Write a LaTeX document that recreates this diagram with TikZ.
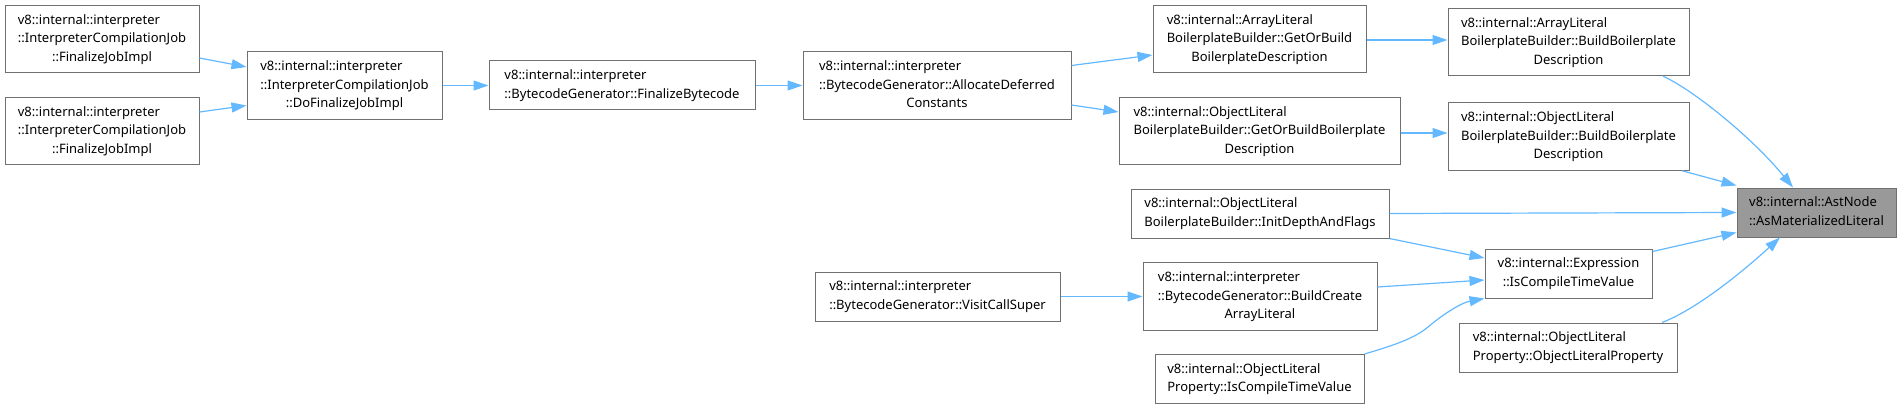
\documentclass[tikz,border=0pt]{standalone}
\usepackage{fontspec}
\setmainfont{Noto Sans}
\usepackage{tikz}
\usetikzlibrary{arrows.meta,calc}

\definecolor{edgeblue}{HTML}{63B8FF}
\definecolor{boxgray}{HTML}{707070}
\definecolor{mainfill}{HTML}{999999}

\newcommand{\twolines}[2]{\begin{tabular}{@{}l@{}}#1\\\multicolumn{1}{@{}c@{}}{#2}\end{tabular}}
\newcommand{\threelines}[3]{\begin{tabular}{@{}l@{}}#1\\#2\\\multicolumn{1}{@{}c@{}}{#3}\end{tabular}}

\tikzset{
  fn/.style={draw=boxgray, fill=white, line width=1pt, inner xsep=4pt, inner ysep=6pt,
    font=\fontsize{13}{18.5}\selectfont},
  fnmain/.style={fn, fill=mainfill},
  call/.style={draw=edgeblue, line width=1.2pt, -{Triangle[length=15pt,width=10pt]}},
}

\begin{document}
\begin{tikzpicture}[x=1pt,y=-1pt]
  \useasboundingbox (0,0) rectangle (1901,409);
  % callers of AstNode::AsMaterializedLiteral
  \node[fn, minimum width=194] (fjiA) at (102,39) {\threelines{v8::internal::interpreter}{::InterpreterCompilationJob}{::FinalizeJobImpl}};
  \node[fn, minimum width=194] (fjiB) at (102,131) {\threelines{v8::internal::interpreter}{::InterpreterCompilationJob}{::FinalizeJobImpl}};
  \node[fn, minimum width=195] (dofji) at (344.5,85.5) {\threelines{v8::internal::interpreter}{::InterpreterCompilationJob}{::DoFinalizeJobImpl}};
  \node[fn, minimum width=266] (finbc) at (622,85.5) {\twolines{v8::internal::interpreter}{::BytecodeGenerator::FinalizeBytecode}};
  \node[fn, minimum width=268] (alloc) at (937,85.5) {\threelines{v8::internal::interpreter}{::BytecodeGenerator::AllocateDeferred}{Constants}};
  \node[fn, minimum width=213] (arrget) at (1259.5,39) {\threelines{v8::internal::ArrayLiteral}{BoilerplateBuilder::GetOrBuild}{BoilerplateDescription}};
  \node[fn, minimum width=281] (objget) at (1259.5,131) {\threelines{v8::internal::ObjectLiteral}{BoilerplateBuilder::GetOrBuildBoilerplate}{Description}};
  \node[fn, minimum width=241] (arrbuild) at (1568.5,42) {\threelines{v8::internal::ArrayLiteral}{BoilerplateBuilder::BuildBoilerplate}{Description}};
  \node[fn, minimum width=241] (objbuild) at (1568.5,136.5) {\threelines{v8::internal::ObjectLiteral}{BoilerplateBuilder::BuildBoilerplate}{Description}};
  \node[fn, minimum width=258] (initdepth) at (1260,213.5) {\twolines{v8::internal::ObjectLiteral}{BoilerplateBuilder::InitDepthAndFlags}};
  \node[fn, minimum width=245] (callsuper) at (937.5,296.5) {\twolines{v8::internal::interpreter}{::BytecodeGenerator::VisitCallSuper}};
  \node[fn, minimum width=234] (bcreate) at (1260,296.5) {\threelines{v8::internal::interpreter}{::BytecodeGenerator::BuildCreate}{ArrayLiteral}};
  \node[fn, minimum width=209] (propisct) at (1259.5,379) {\twolines{v8::internal::ObjectLiteral}{Property::IsCompileTimeValue}};
  \node[fn, minimum width=167] (exprisct) at (1568.5,273.5) {\twolines{v8::internal::Expression}{::IsCompileTimeValue}};
  \node[fn, minimum width=218] (propctor) at (1568,347.5) {\twolines{v8::internal::ObjectLiteral}{Property::ObjectLiteralProperty}};
  \node[fnmain, minimum width=159] (asmat) at (1816.5,212.5) {\twolines{v8::internal::AstNode}{::AsMaterializedLiteral}};

  \draw[call] ([yshift=-19]fjiA.east) -- ([yshift=18.5]dofji.west);
  \draw[call] ([yshift=19]fjiB.east) -- ([yshift=-20]dofji.west);
  \draw[call] (dofji) -- (finbc);
  \draw[call] (finbc) -- (alloc);
  \draw[call] ([yshift=20]alloc.east) -- ([yshift=-16]arrget.west);
  \draw[call] ([yshift=-19.5]alloc.east) -- ([yshift=19]objget.west);
  \draw[call] ([yshift=-1]arrget.east) -- ([yshift=2]arrbuild.west);
  \draw[call] ([yshift=-2]objget.east) -- ([yshift=3.5]objbuild.west);
  \draw[call] ([xshift=94.5]arrbuild.south) .. controls (1690,88) and (1750,135) .. ([xshift=-23.5]asmat.north);
  \draw[call] ([xshift=113.5]objbuild.south) -- ([yshift=2]asmat.north west);
  \draw[call] (initdepth.east) -- (asmat.west);
  \draw[call] (initdepth.south east) -- ([yshift=15.5]exprisct.west);
  \draw[call] ([yshift=9.5]bcreate.east) -- ([yshift=-6.5]exprisct.west);
  \draw[call] (propisct.north east) .. controls (1395,345) and (1415,338) .. (1428,327)
              .. controls (1441,316) and (1460,303) .. (exprisct.south west);
  \draw[call] (callsuper) -- (bcreate);
  \draw[call] ([yshift=-3]exprisct.north east) -- ([yshift=-20]asmat.west);
  \draw[call] ([xshift=94]propctor.north) .. controls (1700,308) and (1750,265) .. ([xshift=-36.5]asmat.south);
\end{tikzpicture}
\end{document}
